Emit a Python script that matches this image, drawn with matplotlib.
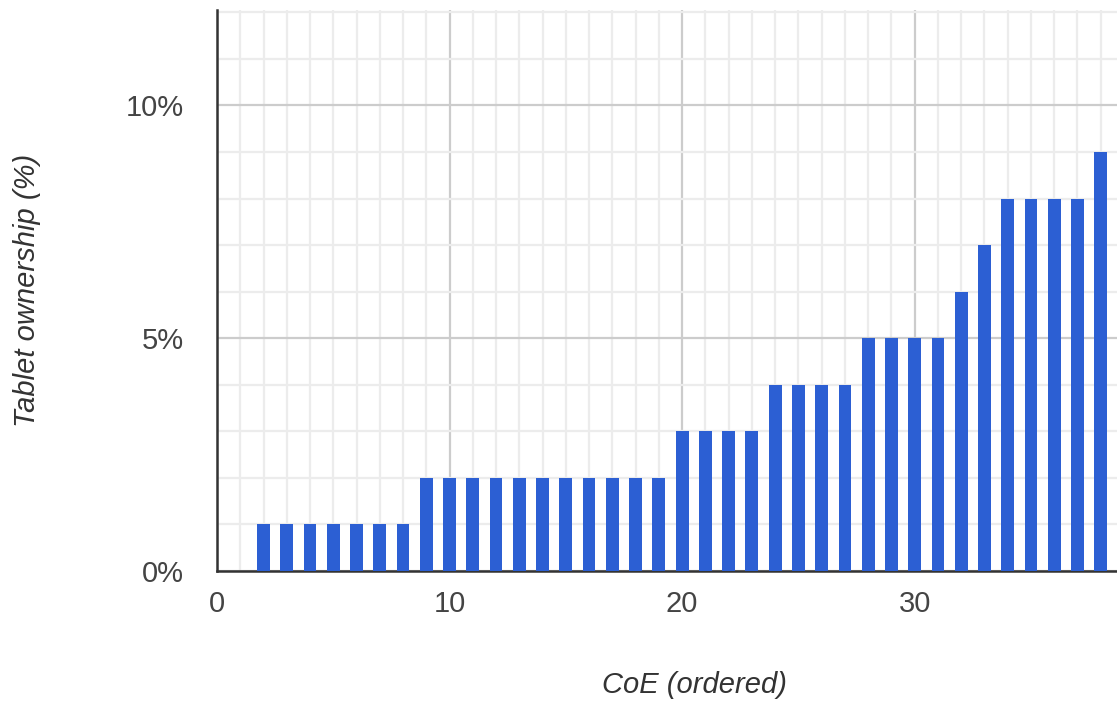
import matplotlib
matplotlib.use("Agg")
import matplotlib.pyplot as plt
from matplotlib.ticker import MultipleLocator, FuncFormatter

# CoE index (ordered) and tablet ownership share in %
coe = list(range(2, 39))
ownership = [1] * 7 + [2] * 11 + [3] * 4 + [4] * 4 + [5] * 4 + [6, 7] + [8] * 4 + [9]

plt.rcParams["font.family"] = ["Liberation Sans", "DejaVu Sans"]

fig = plt.figure(figsize=(11.17, 7.02), dpi=100)
ax = fig.add_axes([217 / 1117, 131 / 702, 900 / 1117, 561 / 702])

ax.bar(coe, ownership, width=0.55, color="#2c5fd3", zorder=3)

ax.set_xlim(0, 38.7)
ax.set_ylim(0, 12.05)
ax.xaxis.set_major_locator(MultipleLocator(10))
ax.xaxis.set_minor_locator(MultipleLocator(1))
ax.yaxis.set_major_locator(MultipleLocator(5))
ax.yaxis.set_minor_locator(MultipleLocator(1))
ax.yaxis.set_major_formatter(FuncFormatter(lambda v, _: f"{v:.0f}%"))

ax.grid(which="major", color="#cccccc", linewidth=1.6, zorder=0)
ax.grid(which="minor", color="#ececec", linewidth=1.6, zorder=0)

for side in ("top", "right"):
    ax.spines[side].set_visible(False)
for side in ("left", "bottom"):
    ax.spines[side].set_color("#333333")
    ax.spines[side].set_linewidth(1.8)

ax.tick_params(which="both", length=0)
ax.tick_params(axis="y", pad=24, labelsize=21, labelcolor="#444444")
ax.tick_params(axis="x", pad=14, labelsize=21, labelcolor="#444444")

ax.set_xlabel("CoE (ordered)", fontsize=21, style="italic", color="#333333")
ax.set_ylabel("Tablet ownership (%)", fontsize=21, style="italic", color="#333333")
ax.xaxis.set_label_coords(0.531, -0.178)
ax.yaxis.set_label_coords(-0.196, 0.5)

fig.savefig("out.png", dpi=100)
